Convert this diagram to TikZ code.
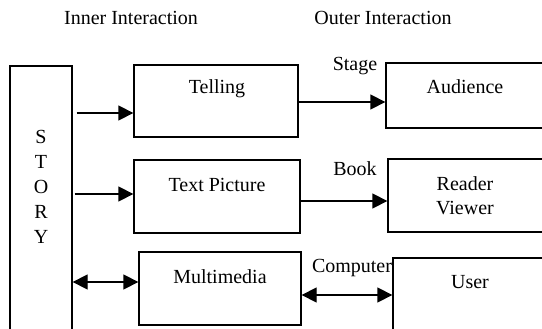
\documentclass[tikz,border=0pt]{standalone}
\usepackage{fontspec}
\setmainfont{Liberation Serif}
\usetikzlibrary{arrows.meta}
\begin{document}
\begin{tikzpicture}[x=1pt,y=-1pt,
  box/.style={draw,line width=1.3pt,rectangle,inner sep=0pt},
  txt/.style={font=\fontsize{20}{24}\selectfont,inner sep=0pt},
  arr/.style={line width=1.3pt,-{Triangle[length=15pt,width=15pt]}},
  darr/.style={line width=1.3pt,{Triangle[length=15pt,width=15pt]}-{Triangle[length=15pt,width=15pt]}}]
\useasboundingbox (0,0) rectangle (542,329);
\clip (0,0) rectangle (542,329);
% boxes
\node[box,minimum width=62pt,minimum height=274pt] (story) at (41,203) {};
\node[box,minimum width=164pt,minimum height=72pt] (telling) at (216,101) {};
\node[box,minimum width=166pt,minimum height=73pt] (textpic) at (217,196.5) {};
\node[box,minimum width=162pt,minimum height=73pt] (multi) at (220,288.5) {};
\node[box,minimum width=174pt,minimum height=65pt] (aud) at (473,95.5) {};
\node[box,minimum width=172pt,minimum height=73pt] (reader) at (474,195.5) {};
\node[box,minimum width=167pt,minimum height=87pt] (user) at (476.5,301.5) {};
% texts
\node[txt] (inner) at (131,18) {Inner Interaction};
\node[txt] (outer) at (383,18) {Outer Interaction};
\node[txt] (tTelling) at (217,89) {Telling};
\node[txt] (tTextPic) at (217,185) {Text Picture};
\node[txt] (tMulti) at (220,277) {Multimedia};
\node[txt] (tAud) at (465,87) {Audience};
\node[txt,align=center] (tReader) at (465,196) {Reader\\[0pt]Viewer};
\node[txt] (tUser) at (470,282) {User};
\node[txt,align=center] (tStory) at (41,187) {S\\[1pt]T\\[1pt]O\\[1pt]R\\[1pt]Y};
\node[txt] (stage) at (355,66) {Stage};
\node[txt] (book) at (355,169) {Book};
\node[txt] (computer) at (352,268) {Computer};
% connectors
\draw[arr] ([xshift=4pt]story.east |- 0,113) -- (telling.west |- 0,113);
\draw[arr] ([xshift=2pt]story.east |- 0,194) -- (textpic.west |- 0,194);
\draw[darr] (story.east |- 0,282) -- (multi.west |- 0,282);
\draw[arr] (telling.east |- 0,102) -- (aud.west |- 0,102);
\draw[arr] (textpic.east |- 0,201) -- (reader.west |- 0,201);
\draw[darr] (multi.east |- 0,295) -- (user.west |- 0,295);
\end{tikzpicture}
\end{document}
